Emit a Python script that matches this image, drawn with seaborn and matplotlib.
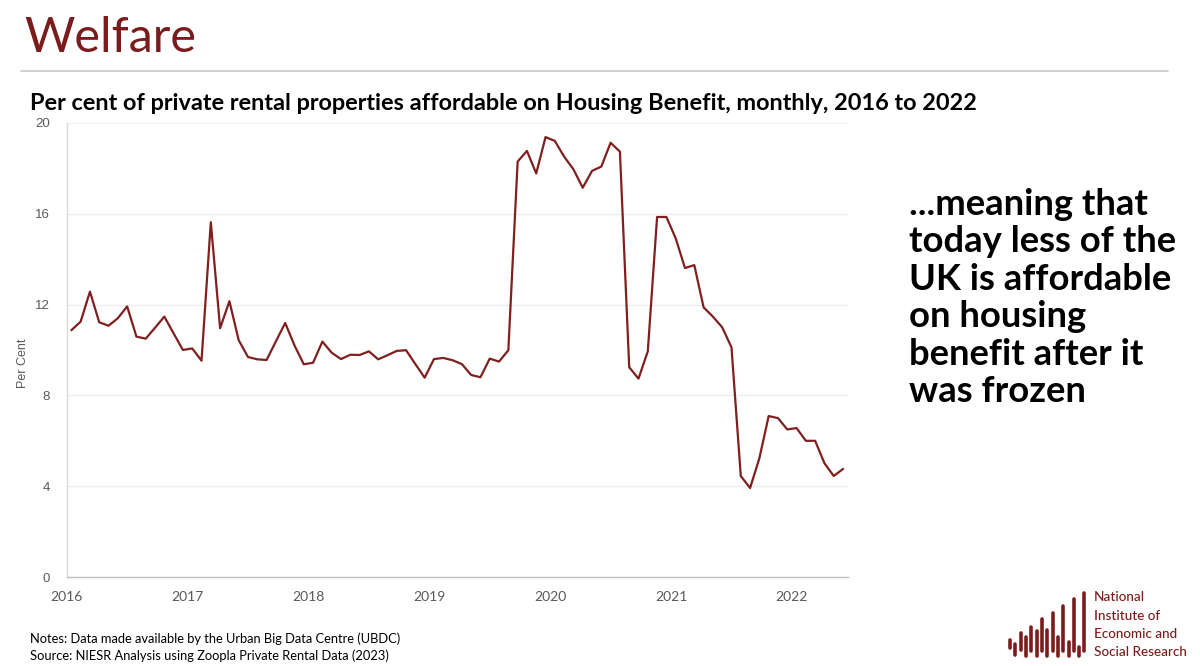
import matplotlib
matplotlib.use("Agg")
import matplotlib.pyplot as plt
import seaborn as sns
import pandas as pd
import numpy as np
from matplotlib.lines import Line2D

# ---------------- data ----------------
values = [
    10.87, 11.25, 12.57, 11.22, 11.07, 11.40, 11.92, 10.59, 10.50, 10.98,
    11.47, 10.73, 10.00, 10.07, 9.53, 15.63, 10.96, 12.15, 10.43, 9.69,
    9.59, 9.56, 10.38, 11.19, 10.20, 9.37, 9.44, 10.37, 9.88, 9.60,
    9.79, 9.78, 9.94, 9.59, 9.77, 9.96, 9.99, 9.38, 8.78, 9.60,
    9.65, 9.55, 9.38, 8.90, 8.80, 9.62, 9.49, 9.99, 18.30, 18.77,
    17.78, 19.38, 19.21, 18.52, 17.96, 17.15, 17.89, 18.08, 19.13, 18.74,
    9.24, 8.74, 9.94, 15.86, 15.86, 14.92, 13.61, 13.74, 11.88, 11.47,
    11.00, 10.12, 4.45, 3.92, 5.23, 7.09, 7.00, 6.50, 6.56, 6.00,
    6.00, 5.01, 4.45, 4.76,
]
period = list(range(len(values)))
year_labels = ["2016", "2017", "2018", "2019", "2020", "2021", "2022"]
y_ticks = [0, 4, 8, 12, 16, 20]

title = "Welfare"
subtitle = "Per cent of private rental properties affordable on Housing Benefit, monthly, 2016 to 2022"
side_lines = ["...meaning that", "today less of the", "UK is affordable",
              "on housing", "benefit after it", "was frozen"]
notes = ["Notes: Data made available by the Urban Big Data Centre (UBDC)",
         "Source: NIESR Analysis using Zoopla Private Rental Data (2023)"]
logo_lines = ["National", "Institute of", "Economic and", "Social Research"]

df = pd.DataFrame({"period": period, "value": values})

# ---------------- style ----------------
sns.set_theme(style="white")
plt.rcParams["font.family"] = ["Lato", "DejaVu Sans"]

W, H = 1200, 666
fig = plt.figure(figsize=(W / 100, H / 100), dpi=100)
fig.patch.set_facecolor("white")

def fx(px):
    return px / W

def fy(py):
    return 1 - py / H

red = "#7B1C1C"
ax = fig.add_axes([fx(66.7), fy(577), fx(847.7) - fx(66.7), fy(123) - fy(577)])

sns.lineplot(data=df, x="period", y="value", ax=ax, color="#7F1F1F", linewidth=1.6)

ax.set_xlim(-0.5, len(values) - 0.5)
ax.set_ylim(0, 20)
ax.set_yticks(y_ticks)
ax.set_yticklabels([str(t) for t in y_ticks], fontsize=9.5, color="#595959",
                   family=["Liberation Sans", "DejaVu Sans"])
ax.set_xticks([-0.5 + 13 * k for k in range(len(year_labels))])
ax.set_xticklabels(year_labels, fontsize=10, color="#595959")
ax.grid(axis="y", color="#EEEEEE", linewidth=0.9)
ax.set_axisbelow(True)
for s in ["top", "right"]:
    ax.spines[s].set_visible(False)
ax.spines["left"].set_color("#D9D9D9")
ax.spines["bottom"].set_color("#BFBFBF")
ax.spines["left"].set_linewidth(1.0)
ax.spines["bottom"].set_linewidth(1.0)
ax.tick_params(axis="x", which="major", length=4, color="#BFBFBF", width=1, pad=6)
ax.tick_params(axis="y", which="major", length=4, color="#D9D9D9", width=1, pad=8)
ax.set_xlabel("")
ax.set_ylabel("Per Cent", fontsize=9, color="#595959",
              family=["Liberation Sans", "DejaVu Sans"])
ax.yaxis.set_label_coords(-0.048, 0.47)

# ---------------- texts ----------------
fig.text(fx(24), fy(38), title, fontsize=35, color=red, va="center", ha="left")
fig.add_artist(Line2D([fx(21), fx(1168)], [fy(71), fy(71)], color="#C8C8C8", linewidth=1.2))
fig.text(fx(30), fy(103), subtitle, fontsize=16.9, fontweight="bold", color="black",
         va="center", ha="left")

for i, line in enumerate(side_lines):
    fig.text(fx(909), fy(215 + 37.4 * i), line, fontsize=26.2, fontweight="bold",
             color="black", va="baseline", ha="left")

for i, line in enumerate(notes):
    fig.text(fx(30), fy(639 + 17 * i), line, fontsize=9.3, color="black",
             va="center", ha="left")

for i, line in enumerate(logo_lines):
    fig.text(fx(1094), fy(597 + 18.5 * i), line, fontsize=9.7, color=red,
             va="center", ha="left", fontweight="medium")

# logo bars (decorative)
bar_x = [1010, 1015, 1020.7, 1026, 1031, 1036.7, 1042, 1047, 1052.7, 1058,
         1063, 1068.7, 1074, 1079, 1084]
bar_top = [180, 192, 160, 172, 140, 152, 118, 150, 98, 172, 78, 186, 56, 200, 38]
bar_bot = [205, 225, 210, 228, 212, 228, 212, 228, 212, 228, 212, 228, 212, 228, 212]
for bx, bt, bb in zip(bar_x, bar_top, bar_bot):
    fig.add_artist(Line2D([fx(bx), fx(bx)], [fy(580 + bt / 3), fy(580 + bb / 3)],
                          color=red, linewidth=2.6, solid_capstyle="round"))

fig.savefig("out.png", dpi=100, facecolor="white")
